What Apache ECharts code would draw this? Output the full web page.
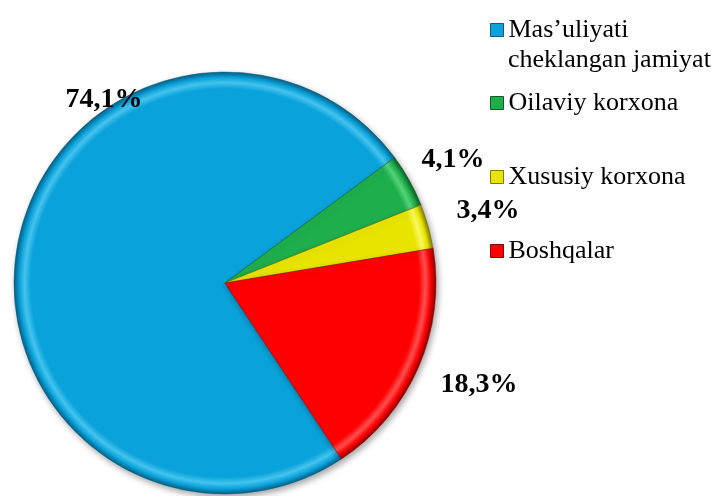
<!DOCTYPE html>
<html>
<head>
<meta charset="utf-8">
<script src="https://cdn.jsdelivr.net/npm/echarts@6/dist/echarts.min.js"></script>
<style>
  html, body { margin: 0; padding: 0; background: #ffffff; }
  #chart { width: 721px; height: 496px; }
</style>
</head>
<body>
<div id="chart"></div>
<script>
var categories = ['Mas’uliyati cheklangan jamiyat', 'Oilaviy korxona', 'Xususiy korxona', 'Boshqalar'];
var shares = [74.1, 4.1, 3.4, 18.3];
var colors = ['#0aa2da', '#1fae4c', '#e8e400', '#ff0000'];
var rimLight = ['#45c3ee', '#55d27a', '#f8f860', '#ff5050'];
var rimDark = ['#065f85', '#0c5c27', '#807a00', '#8a0000'];

// label placement (px) and legend row centres
var labelPos = [[104, 100], [453, 160], [488, 211], [479, 385]];
var legendRows = [30, 103, 177, 251];

var cx = 225, cy = 283, R = 211;
var font = '"Liberation Serif", "Times New Roman", serif';

var chart = echarts.init(document.getElementById('chart'));

function sliceColor(i) {
  return {
    type: 'radial', x: cx, y: cy, r: R, global: true,
    colorStops: [
      { offset: 0, color: colors[i] },
      { offset: 0.92, color: colors[i] },
      { offset: 0.95, color: rimLight[i] },
      { offset: 0.975, color: colors[i] },
      { offset: 1, color: rimDark[i] }
    ]
  };
}

var data = categories.map(function (name, i) {
  return {
    name: name,
    value: shares[i],
    itemStyle: { color: sliceColor(i), borderColor: rimDark[i], borderWidth: 0.5 }
  };
});

var legends = categories.map(function (name, i) {
  return {
    data: [{ name: name, itemStyle: { color: colors[i], borderColor: rimDark[i], borderWidth: 1 } }],
    orient: 'vertical',
    left: 490,
    top: legendRows[i] - 15,
    padding: 0,
    icon: 'rect',
    itemWidth: 13,
    itemHeight: 13,
    selectedMode: false,
    formatter: function (n) { return i === 0 ? 'Mas’uliyati' : n; },
    textStyle: { fontFamily: font, fontSize: 26, color: '#000', lineHeight: 30 }
  };
});

chart.setOption({
  backgroundColor: '#ffffff',
  legend: legends,
  graphic: [{
    type: 'text',
    left: 508,
    top: 47,
    style: { text: 'cheklangan jamiyat', font: '26px ' + font, fill: '#000' }
  }],
  series: [{
    type: 'pie',
    center: [cx, cy],
    radius: R,
    startAngle: -56.5,
    clockwise: true,
    animation: false,
    avoidLabelOverlap: false,
    data: data,
    itemStyle: {
      shadowBlur: 6,
      shadowOffsetX: 2,
      shadowOffsetY: 3,
      shadowColor: 'rgba(0,0,0,0.35)'
    },
    label: {
      show: true,
      position: 'inside',
      formatter: function (p) { return p.value.toFixed(1).replace('.', ',') + '%'; },
      fontFamily: font,
      fontWeight: 'bold',
      fontSize: 28,
      color: '#000'
    },
    labelLine: { show: false },
    labelLayout: function (p) {
      return {
        x: labelPos[p.dataIndex][0],
        y: labelPos[p.dataIndex][1],
        align: 'center',
        verticalAlign: 'middle'
      };
    },
    emphasis: { disabled: true }
  }]
});
</script>
</body>
</html>
